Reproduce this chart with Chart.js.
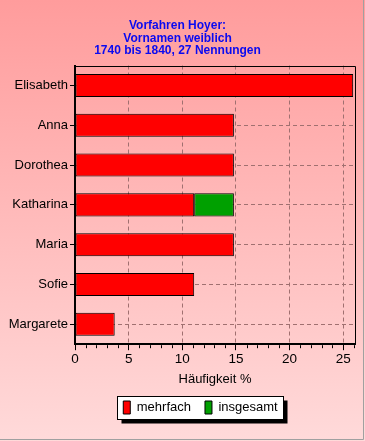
<!DOCTYPE html>
<html>
<head>
<meta charset="utf-8">
<script src="https://cdn.jsdelivr.net/npm/chart.js@4.4.1/dist/chart.umd.min.js"></script>
<style>
html,body{margin:0;padding:0;background:#fff;}
#wrap{width:365px;height:441px;position:relative;}
canvas{display:block;}
</style>
</head>
<body>
<div id="wrap"><canvas id="c" width="365" height="441"></canvas></div>
<script>
const titleLines = ['Vorfahren Hoyer:', 'Vornamen weiblich', '1740 bis 1840, 27 Nennungen'];
const categories = ['Elisabeth', 'Anna', 'Dorothea', 'Katharina', 'Maria', 'Sofie', 'Margarete'];
const mehrfach = [25.93, 14.81, 14.81, 11.11, 14.81, 11.11, 3.70];
const insgesamt = [0, 0, 0, 3.70, 0, 0, 0];
const seriesNames = ['mehrfach', 'insgesamt'];
const xTickValues = [0, 5, 10, 15, 20, 25];
const xTitle = 'Häufigkeit %';
const xMax = 26.1;

const bgPlugin = {
  id: 'bg',
  afterLayout(chart) {
    const lg = chart.legend;
    if (lg) { lg.left += 23; lg.right += 23; }
  },
  beforeDraw(chart) {
    const ctx = chart.ctx, w = chart.width, h = chart.height;
    ctx.save();
    const g = ctx.createLinearGradient(0, 0, 0, h);
    g.addColorStop(0, '#ff9c9c');
    g.addColorStop(1, '#ffdada');
    ctx.fillStyle = g;
    ctx.fillRect(0, 0, w, h);
    ctx.strokeStyle = '#a0a0a0';
    ctx.lineWidth = 1;
    ctx.beginPath();
    ctx.moveTo(w - 1.5, 0); ctx.lineTo(w - 1.5, h - 1.5); ctx.lineTo(0, h - 1.5);
    ctx.stroke();
    const lg = chart.legend;
    if (lg && lg.legendHitBoxes && lg.legendHitBoxes.length) {
      const hb = lg.legendHitBoxes;
      let l = Math.min(...hb.map(b => b.left)), r = Math.max(...hb.map(b => b.left + b.width));
      let t = Math.min(...hb.map(b => b.top)), bt = Math.max(...hb.map(b => b.top + b.height));
      l -= 6; r += 5; t -= 5; bt += 5;
      l = Math.round(l) + 0.5; t = Math.round(t) + 0.5; r = Math.round(r) + 0.5; bt = Math.round(bt) + 0.5;
      ctx.fillStyle = '#000';
      ctx.fillRect(l + 4, t + 4, r - l, bt - t);
      ctx.fillStyle = '#fff';
      ctx.fillRect(l, t, r - l, bt - t);
      ctx.strokeStyle = '#000';
      ctx.strokeRect(l, t, r - l, bt - t);
    }
    ctx.restore();
  },
  afterDatasetsDraw(chart) {
    const ctx = chart.ctx, a = chart.chartArea;
    ctx.save();
    ctx.strokeStyle = '#000';
    ctx.lineWidth = 1;
    ctx.beginPath();
    ctx.moveTo(Math.round(a.left), Math.round(a.top) + 0.5);
    ctx.lineTo(Math.round(a.right) + 0.5, Math.round(a.top) + 0.5);
    ctx.lineTo(Math.round(a.right) + 0.5, Math.round(a.bottom));
    ctx.stroke();
    const xs = chart.scales.x;
    ctx.beginPath();
    for (let v = 1; v <= xMax; v++) {
      if (v % 5 === 0) continue;
      const px = Math.round(xs.getPixelForValue(v)) + 0.5;
      ctx.moveTo(px, a.bottom + 1);
      ctx.lineTo(px, a.bottom + 4);
    }
    ctx.stroke();
    ctx.restore();
  }
};

new Chart(document.getElementById('c'), {
  type: 'bar',
  data: {
    labels: categories,
    datasets: [
      { label: seriesNames[0], data: mehrfach, backgroundColor: '#ff0000', borderColor: '#000', borderWidth: 1, borderSkipped: false },
      { label: seriesNames[1], data: insgesamt, backgroundColor: '#00a000', borderColor: '#000', borderWidth: 1, borderSkipped: false }
    ]
  },
  options: {
    indexAxis: 'y',
    responsive: false,
    animation: false,
    devicePixelRatio: 1,
    layout: { padding: { left: 0, right: 10, bottom: 17 } },
    datasets: { bar: { categoryPercentage: 1, barPercentage: 0.58 } },
    scales: {
      x: {
        stacked: true,
        min: 0, max: xMax,
        afterBuildTicks(s) { s.ticks = xTickValues.map(v => ({ value: v })); },
        ticks: { color: '#000', font: { family: 'Liberation Sans', size: 13.5 }, padding: 1 },
        grid: { color: '#a07070', lineWidth: 1, tickLength: 6, tickColor: '#000', tickBorderDash: [] },
        border: { display: true, color: '#000', width: 2, dash: [4, 3] },
        title: { display: true, text: xTitle, color: '#000', font: { family: 'Liberation Sans', size: 13 }, padding: { top: 3, bottom: 0 } }
      },
      y: {
        stacked: true,
        offset: true,
        afterFit(s) { s.width = 75; },
        ticks: { color: '#000', font: { family: 'Liberation Sans', size: 13 }, padding: 2 },
        grid: { offset: false, color: '#a07070', lineWidth: 1, tickLength: 5, tickColor: '#000', tickBorderDash: [] },
        border: { display: true, color: '#000', width: 2, dash: [4, 3] }
      }
    },
    plugins: {
      title: {
        display: true, text: titleLines, color: '#0a0af0',
        font: { family: 'Liberation Sans', size: 12, weight: 'bold', lineHeight: 1.07 },
        padding: { top: 19, bottom: 8 }
      },
      legend: {
        position: 'bottom',
        labels: { boxWidth: 7, boxHeight: 13, color: '#000', font: { family: 'Liberation Sans', size: 13 }, padding: 14,
          generateLabels(chart) {
            return chart.data.datasets.map((d, i) => ({ text: d.label, fillStyle: d.backgroundColor, strokeStyle: '#000', lineWidth: 1, datasetIndex: i, hidden: false }));
          }
        }
      },
      tooltip: { enabled: false }
    }
  },
  plugins: [bgPlugin]
});
</script>
</body>
</html>
